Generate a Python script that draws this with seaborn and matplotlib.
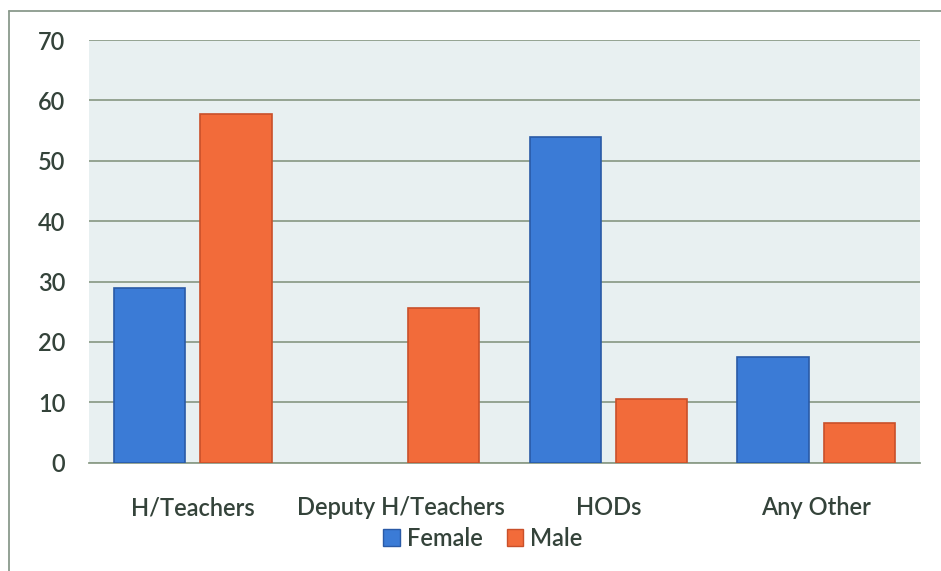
import matplotlib
matplotlib.use("Agg")
import matplotlib.pyplot as plt
import matplotlib.patches as mpatches
import seaborn as sns
import pandas as pd

categories = ["H/Teachers", "Deputy H/Teachers", "HODs", "Any Other"]
female = [29, 0, 54, 17.5]
male = [57.8, 25.7, 10.6, 6.5]
series = ["Female", "Male"]
yticks = [0, 10, 20, 30, 40, 50, 60, 70]

df = pd.DataFrame({
    "Category": categories * 2,
    "Value": female + male,
    "Gender": ["Female"] * len(categories) + ["Male"] * len(categories),
})

sns.set_theme(style="white")
plt.rcParams["font.family"] = ["Lato", "DejaVu Sans"]

text_col = "#34433a"
grid_col = "#8e9e8a"
colors = {"Female": "#3b7bd6", "Male": "#f26b3a"}
edges = {"Female": "#2a5aa6", "Male": "#c9502a"}

fig = plt.figure(figsize=(9.41, 5.71), dpi=100)
fig.patch.set_facecolor("white")
ax = fig.add_axes([89 / 941, 1 - 462.7 / 571, (920 - 89) / 941, (462.7 - 40) / 571])
ax.set_facecolor("#e8f0f1")

sns.barplot(data=df, x="Category", y="Value", hue="Gender", hue_order=series,
            palette=colors, saturation=1, width=0.83, gap=0.175, ax=ax, legend=False,
            errorbar=None, zorder=3)
for i, p in enumerate(ax.patches):
    g = series[i // len(categories)]
    p.set_edgecolor(edges[g])
    p.set_linewidth(1.2)
    if p.get_height() == 0:
        p.set_linewidth(0)

ax.set_xlim(-0.5, len(categories) - 0.5)
ax.set_ylim(0, 70)
ax.set_yticks(yticks)
ax.yaxis.grid(True, color=grid_col, linewidth=1.3, zorder=0)
ax.set_axisbelow(True)
for s in ["left", "right", "top"]:
    ax.spines[s].set_visible(False)
ax.spines["bottom"].set_color(grid_col)
ax.spines["bottom"].set_linewidth(1.3)
ax.tick_params(axis="y", length=0, pad=17, labelsize=17, labelcolor=text_col)
ax.tick_params(axis="x", length=0, pad=24, labelsize=17, labelcolor=text_col)
for t in ax.get_xticklabels() + ax.get_yticklabels():
    t.set_fontweight("semibold")
ax.set_xlabel("")
ax.set_ylabel("")

handles = [mpatches.Patch(facecolor=colors[s], edgecolor=edges[s], label=s) for s in series]
leg = fig.legend(handles=handles, loc="center", bbox_to_anchor=(483 / 941, 1 - 538 / 571),
                 ncol=2, frameon=False, handlelength=0.7, handleheight=0.7,
                 handletextpad=0.3, columnspacing=1.0,
                 prop={"size": 17, "weight": "semibold"})
for t in leg.get_texts():
    t.set_color(text_col)

# outer chart frame
fig.add_artist(plt.Line2D([9 / 941, 9 / 941], [0, 1 - 11 / 571], transform=fig.transFigure,
                          color="#8a9a8c", linewidth=1.3))
fig.add_artist(plt.Line2D([9 / 941, 1], [1 - 11 / 571, 1 - 11 / 571], transform=fig.transFigure,
                          color="#8a9a8c", linewidth=1.3))

fig.savefig("out.png", dpi=100)
